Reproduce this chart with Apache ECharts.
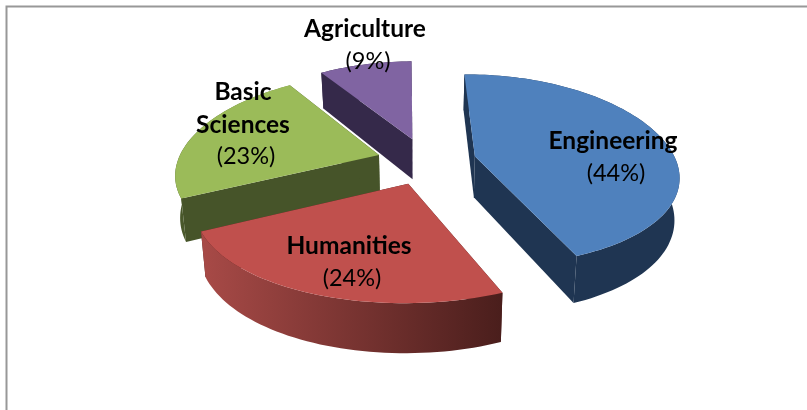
<!DOCTYPE html>
<html>
<head>
<meta charset="utf-8">
<style>
  html, body { margin: 0; padding: 0; background: #fff; }
  #chart { width: 807px; height: 410px; }
</style>
<script src="https://cdn.jsdelivr.net/npm/echarts@6/dist/echarts.min.js"></script>
</head>
<body>
<div id="chart"></div>
<script>
const categories = ['Engineering', 'Humanities', 'Basic\nSciences', 'Agriculture'];
const shares = [44, 24, 23, 9];

const topColors = ['#4f81bd', '#c0504d', '#9bbb59', '#8064a2'];
const sideColors = ['#1f3552', '#4a1f1d', '#465429', '#35294a'];
const arcStops = [
  ['#1f3552', '#1f3552'],
  ['#a84a47', '#4a1e1c'],
  ['#465429', '#7f9a48'],
  ['#35294a', '#35294a']
];
const labelSpots = [[613, 141], [349, 246], [243, 92], [365, 29]];

// camera for the tilted pie
const cam = { cx: 423, horizon: -500, fx: 1108, near: 1.5, fy: 4740, dist: 7.17, offX: 0.018, explode: 0.255, radius: 1.03, rotate: -0.015, depth: 295, taper: 0.98 };

const project = (x, w, low) => {
  const sx = cam.cx + cam.fx * x / (w - cam.near);
  const sy = cam.horizon + cam.fy / w;
  if (!low) return [sx, sy];
  return [cam.cx + (sx - cam.cx) * cam.taper, sy + cam.depth / w];
};

const total = shares.reduce((a, b) => a + b, 0);
const slices = [];
shares.reduce((start, v) => {
  const sweep = v / total * Math.PI * 2;
  slices.push({ start, end: start + sweep, mid: start + sweep / 2 });
  return start + sweep;
}, cam.rotate);
const paintOrder = slices.map((s, i) => i).sort((a, b) => Math.cos(slices[b].mid) - Math.cos(slices[a].mid));

const renderSlice = (params) => {
  const i = params.dataIndex;
  const s = slices[i];
  const ax = cam.offX + cam.explode * Math.sin(s.mid);
  const aw = cam.dist + cam.explode * Math.cos(s.mid);
  const rim = [];
  const steps = Math.ceil((s.end - s.start) / 0.03);
  for (let k = 0; k <= steps; k++) {
    const t = s.start + (s.end - s.start) * k / steps;
    rim.push([ax + cam.radius * Math.sin(t), aw + cam.radius * Math.cos(t)]);
  }
  const up = p => project(p[0], p[1], false);
  const down = p => project(p[0], p[1], true);
  const apex = [ax, aw];
  const first = rim[0];
  const last = rim[rim.length - 1];
  const z = paintOrder.indexOf(i) * 10;
  const poly = (points, fill, z2) => ({
    type: 'polygon',
    z2,
    shape: { points },
    style: { fill }
  });
  const wall = (a, b) => [up(a), up(b), down(b), down(a)];
  const arcFill = new echarts.graphic.LinearGradient(0, 0, 1, 0, [
    { offset: 0, color: arcStops[i][0] },
    { offset: 1, color: arcStops[i][1] }
  ]);
  const lines = categories[i].split('\n');
  const spot = labelSpots[i];
  const text = (str, x, y, bold) => ({
    type: 'text',
    z2: 100,
    style: {
      x, y, text: str,
      fill: '#000',
      font: (bold ? 'bold 24.5px ' : '23.5px ') + 'Lato, "Noto Sans", sans-serif',
      align: 'center', verticalAlign: 'middle'
    }
  });
  const children = [
    poly(wall(apex, first), sideColors[i], z),
    poly(wall(apex, last), sideColors[i], z + 1),
    poly(rim.map(up).concat(rim.slice().reverse().map(down)), arcFill, z + 2),
    poly([up(apex)].concat(rim.map(up)), topColors[i], z + 3)
  ];
  lines.forEach((l, n) => children.push(text(l, spot[0], spot[1] + n * 33, true)));
  children.push(text('(' + shares[i] + '%)', spot[0] + 3, spot[1] + lines.length * 32, false));
  return { type: 'group', children };
};

const chart = echarts.init(document.getElementById('chart'), null, { renderer: 'canvas' });
chart.setOption({
  animation: false,
  graphic: [{
    type: 'rect',
    z: -1,
    shape: { x: 6.5, y: 6.5, width: 820, height: 420 },
    style: { fill: '#fff', stroke: '#989898', lineWidth: 2 }
  }],
  series: [{
    type: 'custom',
    coordinateSystem: 'none',
    data: shares,
    renderItem: renderSlice
  }]
});
</script>
</body>
</html>
